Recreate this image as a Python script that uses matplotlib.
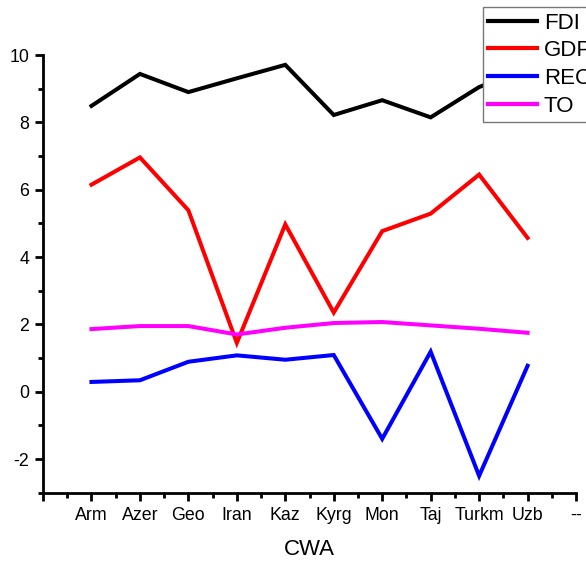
import matplotlib
matplotlib.use("Agg")
import matplotlib.pyplot as plt
from matplotlib.ticker import MultipleLocator, FixedLocator

plt.rcParams['font.family'] = ['Liberation Sans', 'DejaVu Sans']
plt.rcParams['axes.unicode_minus'] = False

countries = ["Arm", "Azer", "Geo", "Iran", "Kaz", "Kyrg", "Mon", "Taj", "Turkm", "Uzb"]
tick_labels = [""] + countries + ["--"]

fdi = [8.49, 9.44, 8.90, 9.31, 9.71, 8.22, 8.66, 8.15, 9.05, 9.60]
gdp = [6.15, 6.96, 5.39, 1.45, 4.97, 2.35, 4.77, 5.29, 6.45, 4.57]
rec = [0.29, 0.34, 0.89, 1.08, 0.95, 1.09, -1.40, 1.19, -2.50, 0.77]
to = [1.86, 1.95, 1.95, 1.70, 1.90, 2.04, 2.07, 1.97, 1.87, 1.75]

series = [("FDI", fdi, "#000000"), ("GDP", gdp, "#ff0000"),
          ("REC", rec, "#0000ff"), ("TO", to, "#ff00ff")]

fig = plt.figure(figsize=(5.86, 5.62), dpi=100)
ax = fig.add_axes([0.0734, 0.1233, 0.9096, 0.7787])

x = list(range(1, len(countries) + 1))
for name, vals, color in series:
    ax.plot(x, vals, color=color, lw=2.9, label=name, solid_joinstyle='miter')

ax.set_xlim(0, 11)
ax.set_ylim(-3, 10)
ax.xaxis.set_major_locator(FixedLocator(range(0, 12)))
ax.set_xticklabels(tick_labels)
ax.xaxis.set_minor_locator(MultipleLocator(0.5))
ax.yaxis.set_major_locator(FixedLocator([-2, 0, 2, 4, 6, 8, 10]))
ax.yaxis.set_minor_locator(MultipleLocator(1))

for side in ("top", "right"):
    ax.spines[side].set_visible(False)
for side in ("left", "bottom"):
    ax.spines[side].set_linewidth(2.0)

ax.tick_params(which='major', direction='out', length=6, width=2, labelsize=12.8, pad=4)
ax.tick_params(which='minor', direction='out', length=3.5, width=2)
ax.set_xlabel("CWA", fontsize=16, labelpad=11)

leg = fig.legend(loc='upper left', bbox_to_anchor=(0.824, 0.9875), borderaxespad=0,
                 fontsize=16, frameon=True, fancybox=False, framealpha=1.0,
                 handlelength=2.2, handletextpad=0.3, labelspacing=0.3, borderpad=0.25)
leg.set_zorder(10)
leg.get_frame().set_edgecolor('#777777')
leg.get_frame().set_linewidth(1.0)
for line in leg.get_lines():
    line.set_linewidth(3.0)

fig.savefig("out.png", dpi=100)
